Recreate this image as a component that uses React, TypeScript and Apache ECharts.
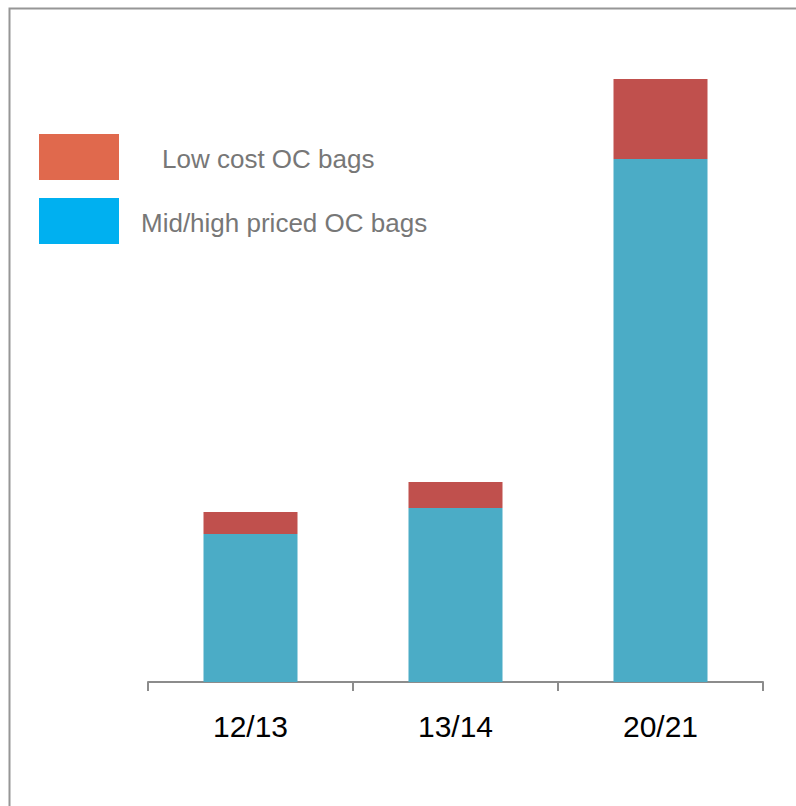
import React, { useEffect, useRef } from "react";
import * as echarts from "echarts";

// Seasons on the x axis
const seasons = ["12/13", "13/14", "20/21"];
// Stacked volumes per season
const midHighPriced = [29.6, 34.8, 104.6];
const lowCost = [4.4, 5.2, 16];
// Series names, in legend order
const seriesNames = ["Low cost OC bags", "Mid/high priced OC bags"];

const BAR_RED = "#C0504D";
const BAR_BLUE = "#4BACC6";
const KEY_RED = "#E0694D";
const KEY_BLUE = "#00B0F0";

export default function App() {
  const ref = useRef<HTMLDivElement>(null);

  useEffect(() => {
    if (!ref.current) return;
    const chart = echarts.init(ref.current, undefined, { renderer: "svg" });
    chart.setOption({
      animation: false,
      backgroundColor: "#ffffff",
      grid: { left: 148, right: 33, top: 32, bottom: 124 },
      xAxis: {
        type: "category",
        data: seasons,
        axisLine: { lineStyle: { color: "#8c8c8c", width: 2 } },
        axisTick: { show: true, length: 9, lineStyle: { color: "#8c8c8c", width: 2 } },
        axisLabel: {
          color: "#000000",
          fontSize: 30,
          fontFamily: "Liberation Sans, Arial, sans-serif",
          margin: 29,
        },
      },
      yAxis: {
        type: "value",
        min: 0,
        max: 130,
        show: false,
        splitLine: { show: false },
      },
      series: [
        {
          name: seriesNames[1],
          type: "bar",
          stack: "bags",
          barWidth: 94,
          data: midHighPriced,
          itemStyle: { color: BAR_BLUE },
        },
        {
          name: seriesNames[0],
          type: "bar",
          stack: "bags",
          barWidth: 94,
          data: lowCost,
          itemStyle: { color: BAR_RED },
        },
      ],
      graphic: [
        {
          type: "rect",
          left: 7,
          top: 6,
          shape: { width: 900, height: 900 },
          style: { fill: "none", stroke: "#969696", lineWidth: 2 },
          silent: true,
        },
        {
          type: "rect",
          left: 39,
          top: 134,
          shape: { width: 80, height: 46 },
          style: { fill: KEY_RED },
        },
        {
          type: "text",
          x: 162,
          y: 159,
          style: {
            text: seriesNames[0],
            fill: "#777777",
            fontSize: 26,
            fontFamily: "Liberation Sans, Arial, sans-serif",
            verticalAlign: "middle",
          },
        },
        {
          type: "rect",
          left: 39,
          top: 198,
          shape: { width: 80, height: 46 },
          style: { fill: KEY_BLUE },
        },
        {
          type: "text",
          x: 141,
          y: 223,
          style: {
            text: seriesNames[1],
            fill: "#777777",
            fontSize: 26,
            fontFamily: "Liberation Sans, Arial, sans-serif",
            verticalAlign: "middle",
          },
        },
      ],
    });
    return () => chart.dispose();
  }, []);

  return (
    <div
      ref={ref}
      style={{ position: "fixed", left: 0, top: 0, width: 796, height: 806 }}
    />
  );
}
